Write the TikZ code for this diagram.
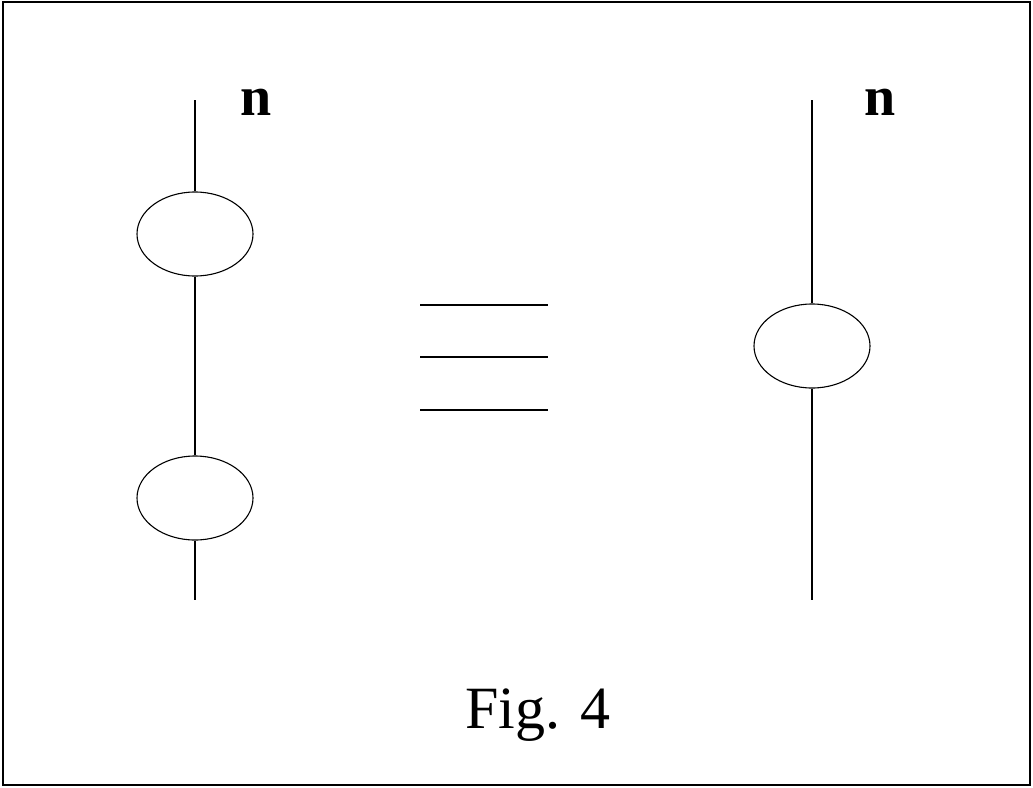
\documentclass[tikz,border=0pt]{standalone}
\usepackage{fontspec}
\setmainfont{Liberation Serif}
\usetikzlibrary{shapes.geometric}
\begin{document}
\begin{tikzpicture}[x=1pt,y=-1pt,
  wire/.style={line width=1.2pt,black},
  loop/.style={ellipse,draw,line width=1.1pt,minimum width=116pt,minimum height=84pt,inner sep=0pt},
  eqline/.style={line width=1.3pt},
  lbl/.style={font=\fontsize{56}{60}\selectfont\bfseries,inner sep=0pt}]
\useasboundingbox (0,0) rectangle (1033,787);
\draw[line width=1.8pt] (3,2) rectangle (1030,785);
% left diagram
\coordinate (lt) at (195,100);
\coordinate (lb) at (195,600);
\node[loop] (e1) at (195,234) {};
\node[loop] (e2) at (195,498) {};
\draw[wire] (lt) -- (e1.north);
\draw[wire] (e1.south) -- (e2.north);
\draw[wire] (e2.south) -- (lb);
\node[lbl,anchor=base] (n1) at (256,115) {n};
% right diagram
\coordinate (rt) at (812,100);
\coordinate (rb) at (812,600);
\node[loop] (e3) at (812,346) {};
\draw[wire] (rt) -- (e3.north);
\draw[wire] (e3.south) -- (rb);
\node[lbl,anchor=base] (n2) at (880,115) {n};
% equivalence sign
\coordinate (a1) at (420,305); \coordinate (b1) at (548,305);
\coordinate (a2) at (420,357); \coordinate (b2) at (548,357);
\coordinate (a3) at (420,410); \coordinate (b3) at (548,410);
\draw[eqline] (a1) -- (b1);
\draw[eqline] (a2) -- (b2);
\draw[eqline] (a3) -- (b3);
% caption
\node[font=\fontsize{60}{64}\selectfont,anchor=base,inner sep=0pt] (cap) at (538,728) {Fig. 4};
\end{tikzpicture}
\end{document}
